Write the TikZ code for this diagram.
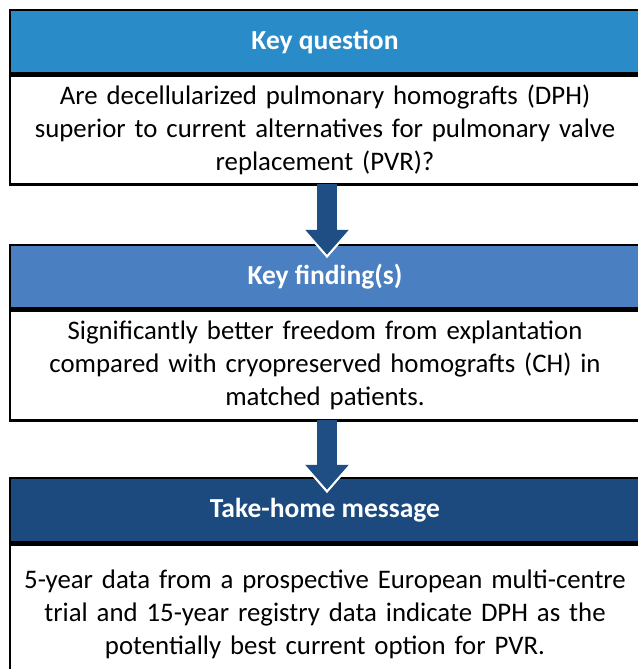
\documentclass[tikz,border=0pt]{standalone}
\usepackage{fontspec}
\setmainfont{Carlito}
\usetikzlibrary{arrows.meta,positioning}
\definecolor{hA}{RGB}{41,140,201}
\definecolor{hB}{RGB}{74,128,193}
\definecolor{hC}{RGB}{28,74,126}
\definecolor{arr}{RGB}{31,78,133}
\tikzset{
  hdr/.style={rectangle, draw=black, line width=2.5bp, minimum width=630bp, inner sep=0pt,
    text=white, font=\fontsize{27.5bp}{33bp}\selectfont\bfseries},
  body/.style={rectangle, draw=black, line width=2.5bp, minimum width=630bp, inner sep=0pt,
    fill=white, align=center, text width=625bp, font=\fontsize{26.8bp}{33bp}\selectfont},
  bigarrow/.style={arr, line width=20bp, -{Triangle[width=42bp,length=25bp]}},
  arrowhalo/.style={white, line width=26bp, -{Triangle[width=50bp,length=30bp]}}
}
\begin{document}
\begin{tikzpicture}[x=1bp,y=-1bp]
\useasboundingbox (0,0) rectangle (638,669);
\clip (0,0) rectangle (638,669);
\fill[white] (0,0) rectangle (638,669);
% panel 1
\node[hdr, fill=hA, minimum height=63bp] (h1) at (325,41.5) {Key question};
\node[body, minimum height=109bp, anchor=north] (b1) at (h1.south) {Are decellularized pulmonary homografts (DPH)\\superior to current alternatives for pulmonary valve\\replacement (PVR)?};
% panel 2
\node[hdr, fill=hB, minimum height=63bp] (h2) at (325,276.5) {Key finding(s)};
\node[body, minimum height=110bp, anchor=north] (b2) at (h2.south) {Significantly better freedom from explantation\\compared with cryopreserved homografts (CH) in\\matched patients.};
% panel 3
\node[hdr, fill=hC, minimum height=64bp] (h3) at (325,510) {Take-home message};
\node[body, minimum height=140bp, anchor=north] (b3) at (h3.south) {5-year data from a prospective European multi-centre\\trial and 15-year registry data indicate DPH as the\\potentially best current option for PVR.};
% arrows
\coordinate (s1) at ([xshift=2bp,yshift=-4bp]b1.south);
\coordinate (t1) at ([xshift=2bp,yshift=-11bp]h2.north);
\coordinate (t1h) at ([xshift=2bp,yshift=-14.5bp]h2.north);
\draw[arrowhalo] (s1) -- (t1h);
\draw[bigarrow] ([yshift=2bp]b1.south -| s1) -- (t1);
\coordinate (s2) at ([xshift=2bp,yshift=-4bp]b2.south);
\coordinate (t2) at ([xshift=2bp,yshift=-13bp]h3.north);
\coordinate (t2h) at ([xshift=2bp,yshift=-16.5bp]h3.north);
\draw[arrowhalo] (s2) -- (t2h);
\draw[bigarrow] ([yshift=2bp]b2.south -| s2) -- (t2);
\end{tikzpicture}
\end{document}
